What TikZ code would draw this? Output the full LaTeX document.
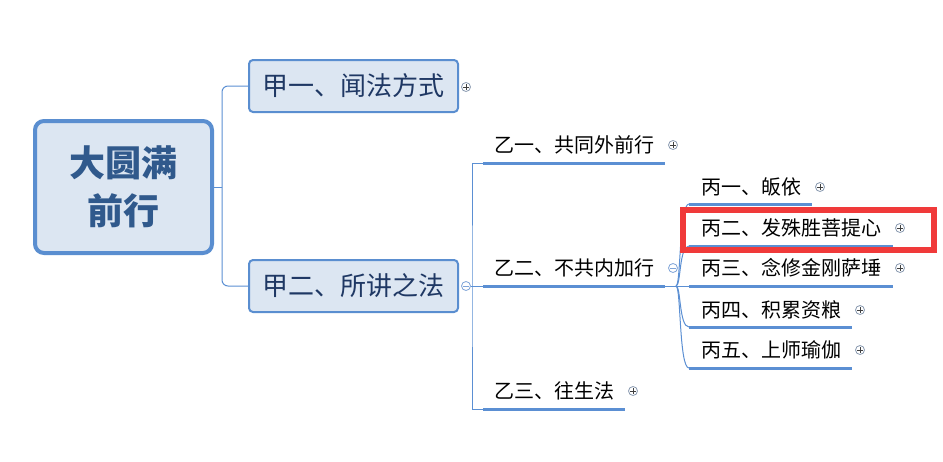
\documentclass[tikz,border=0pt]{standalone}
\usepackage{fontspec}
\newfontfamily\cjk{Noto Sans CJK SC}
\definecolor{lineblue}{HTML}{5B8FD3}
\definecolor{boxblue}{HTML}{5A8ED0}
\definecolor{boxfill}{HTML}{DCE6F2}
\definecolor{navy}{HTML}{1F3864}
\definecolor{rootblue}{HTML}{30598C}
\definecolor{btngray}{HTML}{8A9AB0}
\definecolor{btnblue}{HTML}{7FA4D8}
\definecolor{hilite}{HTML}{F03A3A}
\begin{document}
\begin{tikzpicture}[x=1pt,y=-1pt,
  conn/.style={draw=lineblue, line width=1pt},
  ul/.style={draw=lineblue, line width=3pt},
  lbl/.style={font=\cjk\fontsize{20}{24}\selectfont, inner sep=0pt, text height=17.6pt, text depth=2.4pt, anchor=west},
  mainbox/.style={draw=boxblue, fill=boxfill, line width=2pt, rounded corners=4pt, minimum width=209pt, minimum height=52pt, inner sep=0pt, text=navy, font=\cjk\fontsize{26}{30}\selectfont},
  rootbox/.style={draw=boxblue, fill=boxfill, line width=4pt, rounded corners=9pt, minimum width=177pt, minimum height=132pt, inner sep=0pt, text=rootblue, align=center, font=\cjk\bfseries\fontsize{36}{48}\selectfont},
  btn/.style={circle, fill=white, line width=0.8pt, minimum size=9pt, inner sep=0pt},
  plusbtn/.style={btn, draw=btngray, path picture={
     \draw[black!75, line width=0.8pt] ([xshift=-2.6pt]path picture bounding box.center) -- ([xshift=2.6pt]path picture bounding box.center);
     \draw[black!75, line width=0.8pt] ([yshift=-2.6pt]path picture bounding box.center) -- ([yshift=2.6pt]path picture bounding box.center);}},
  minusbtn/.style={btn, draw=btnblue, path picture={
     \draw[btnblue, line width=0.8pt] ([xshift=-2.6pt]path picture bounding box.center) -- ([xshift=2.6pt]path picture bounding box.center);}}
]
\useasboundingbox (0,0) rectangle (943,461);

% root and level 1
\node[rootbox] (root) at (123.5,187) {大圆满\\前行};
\node[mainbox] (a1) at (353.5,86) {甲一、闻法方式};
\node[mainbox] (a2) at (353.5,286) {甲二、所讲之法};
\coordinate (rj) at (222,187);
\draw[conn] (root.east) -- (rj);
\draw[conn, rounded corners=6pt] (rj) |- (a1.west);
\draw[conn, rounded corners=6pt] (rj) |- (a2.west);
\node[plusbtn] (pa1) at (466,87) {};
\node[minusbtn] (ma2) at (466,286) {};

% level 2
\node[lbl] (b1) at (494,145) {乙一、共同外前行};
\node[lbl] (b2) at (494,268) {乙二、不共内加行};
\node[lbl] (b3) at (494,391) {乙三、往生法};
\coordinate (b1l) at (483,163); \coordinate (b1r) at (665,163);
\coordinate (b2l) at (483,286); \coordinate (b2r) at (665,286);
\coordinate (b3l) at (483,409); \coordinate (b3r) at (625,409);
\draw[ul] (b1l) -- (b1r);
\draw[ul] (b2l) -- (b2r);
\draw[ul] (b3l) -- (b3r);
\coordinate (bj) at (472,286);
\draw[conn] (ma2.east) -- (b2l);
\draw[conn] (b1l) -| (bj) |- (b3l);
\node[plusbtn] (pb1) at (673,145) {};
\node[minusbtn] (mb2) at (673,268) {};
\node[plusbtn] (pb3) at (633,391) {};

% level 3
\node[lbl] (c1) at (701,187) {丙一、皈依};
\node[lbl] (c2) at (701,228) {丙二、发殊胜菩提心};
\node[lbl] (c3) at (701,268) {丙三、念修金刚萨埵};
\node[lbl] (c4) at (701,310) {丙四、积累资粮};
\node[lbl] (c5) at (701,350) {丙五、上师瑜伽};
\coordinate (c1l) at (689,204); \coordinate (c1r) at (812,204);
\coordinate (c2l) at (689,246); \coordinate (c2r) at (893,246);
\coordinate (c3l) at (689,286); \coordinate (c3r) at (893,286);
\coordinate (c4l) at (689,327); \coordinate (c4r) at (852,327);
\coordinate (c5l) at (689,368); \coordinate (c5r) at (852,368);
\draw[ul] (c1l) -- (c1r);
\draw[ul] (c2l) -- (c2r);
\draw[ul] (c3l) -- (c3r);
\draw[ul] (c4l) -- (c4r);
\draw[ul] (c5l) -- (c5r);
\coordinate (cj) at (676,286);
\draw[conn] (b2r) -- (c3l);
\draw[conn] (cj) .. controls (681,286) and (679,204) .. (c1l);
\draw[conn] (cj) .. controls (681,286) and (679,246) .. (c2l);
\draw[conn] (cj) .. controls (681,286) and (679,327) .. (c4l);
\draw[conn] (cj) .. controls (681,286) and (679,368) .. (c5l);
\node[plusbtn] (pc1) at (820,187) {};
\node[plusbtn] (pc2) at (900,228) {};
\node[plusbtn] (pc3) at (900,268) {};
\node[plusbtn] (pc4) at (860,310) {};
\node[plusbtn] (pc5) at (860,350) {};

% highlight
\node[draw=hilite, line width=6pt, minimum width=251pt, minimum height=40pt, inner sep=0pt] (hl) at (808.5,230) {};
\end{tikzpicture}
\end{document}
